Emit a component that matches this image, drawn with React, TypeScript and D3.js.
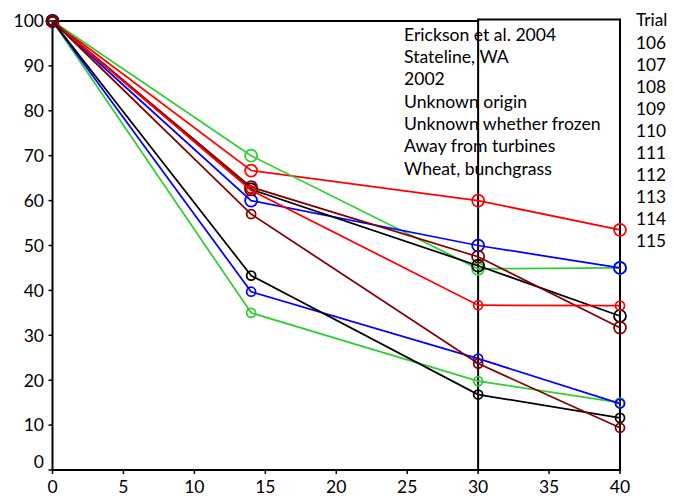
import React from "react";
import * as d3 from "d3";

const days = [0, 14, 30, 40];
const trials = ["106", "107", "108", "109", "110", "111", "112", "113", "114", "115"];
const v106 = [100, 66.7, 60, 53.5];
const v107 = [100, 70, 44.8, 45];
const v108 = [100, 60, 50, 45];
const v109 = [100, 62.5, 45.5, 34.3];
const v110 = [100, 63, 47.5, 31.7];
const v111 = [100, 62.3, 36.7, 36.6];
const v112 = [100, 35, 19.8, 15];
const v113 = [100, 39.7, 24.8, 14.8];
const v114 = [100, 43.3, 16.8, 11.6];
const v115 = [100, 57, 23.7, 9.4];
const seriesValues = [v106, v107, v108, v109, v110, v111, v112, v113, v114, v115];
const xTicks = [0, 5, 10, 15, 20, 25, 30, 35, 40];
const yTicks = [0, 10, 20, 30, 40, 50, 60, 70, 80, 90, 100];
const notes = [
  "Erickson et al. 2004",
  "Stateline, WA",
  "2002",
  "Unknown origin",
  "Unknown whether frozen",
  "Away from turbines",
  "Wheat, bunchgrass",
];

// styles
const colors = ["#FF0000", "#33CC33", "#0000FF", "#000000", "#800000", "#FF0000", "#33CC33", "#0000FF", "#000000", "#800000"];
const radii = [6, 6, 6, 6, 6, 4.5, 4.5, 4.5, 4.5, 4.5];

const W = 674;
const H = 500;
const font = "Lato, 'Open Sans', sans-serif";

export default function App() {
  const x = d3.scaleLinear().domain([0, 40]).range([52.5, 620]);
  const y = d3.scaleLinear().domain([0, 100]).range([470, 21]);
  const line = d3
    .line<[number, number]>()
    .x((d) => x(d[0]))
    .y((d) => y(d[1]));

  return (
    <svg width={W} height={H} style={{ position: "absolute", left: 0, top: 0 }}>
      <rect width={W} height={H} fill="#fff" />
      {/* frame lines */}
      <line x1={x(0)} x2={x(30)} y1={y(100)} y2={y(100)} stroke="#000" strokeWidth={2} />
      <rect x={x(30)} y={19.5} width={x(40) - x(30)} height={y(0) - 19.5} fill="none" stroke="#000" strokeWidth={2} />
      {/* axes */}
      <line x1={x(0)} x2={x(0)} y1={y(100)} y2={y(0)} stroke="#000" strokeWidth={2} />
      <line x1={x(0)} x2={x(40)} y1={y(0)} y2={y(0)} stroke="#000" strokeWidth={2} />
      {yTicks.map((t) => (
        <g key={"y" + t}>
          <line x1={x(0) - 4} x2={x(0)} y1={y(t)} y2={y(t)} stroke="#000" strokeWidth={1.5} />
          <text
            x={44}
            y={y(t) + (t === 0 ? -8 : 0)}
            dy="0.36em"
            textAnchor="end"
            fontFamily={font}
            fontSize={17.5}
            fill="#000"
          >
            {t}
          </text>
        </g>
      ))}
      {xTicks.map((t) => (
        <g key={"x" + t}>
          <line x1={x(t)} x2={x(t)} y1={y(0)} y2={y(0) + 4} stroke="#000" strokeWidth={1.5} />
          <text x={x(t)} y={493} textAnchor="middle" fontFamily={font} fontSize={17.5} fill="#000">
            {t}
          </text>
        </g>
      ))}
      {/* series */}
      {seriesValues.map((vals, i) => {
        const pts = days.map((d, j) => [d, vals[j]] as [number, number]);
        return (
          <g key={"s" + i}>
            <path d={line(pts) || ""} fill="none" stroke={colors[i]} strokeWidth={1.75} />
            {pts.map((p, j) => (
              <circle key={j} cx={x(p[0])} cy={y(p[1])} r={radii[i]} fill="none" stroke={colors[i]} strokeWidth={1.75} />
            ))}
          </g>
        );
      })}
      {/* notes */}
      {notes.map((n, i) => (
        <text key={"n" + i} x={404} y={40.7 + 22.3 * i} fontFamily={font} fontSize={17.6} fill="#000">
          {n}
        </text>
      ))}
      {/* legend */}
      <text x={636} y={26} fontFamily={font} fontSize={17.3} fill="#000">
        Trial
      </text>
      {trials.map((t, i) => (
        <text key={"l" + t} x={636} y={49 + 22 * i} fontFamily={font} fontSize={17.3} fill="#000">
          {t}
        </text>
      ))}
    </svg>
  );
}
